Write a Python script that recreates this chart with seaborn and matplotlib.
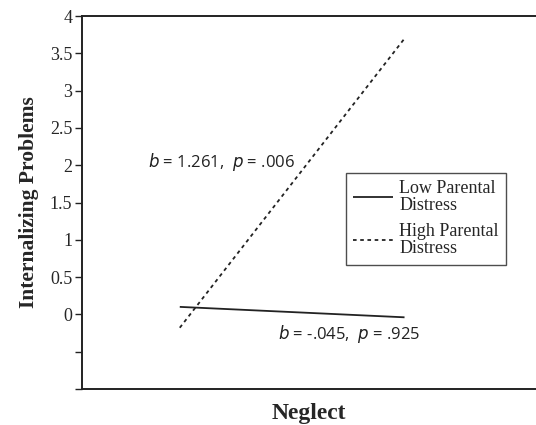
import pandas as pd
import numpy as np
import matplotlib
matplotlib.use('Agg')
import matplotlib.pyplot as plt
import seaborn as sns

# simple slopes, values
neglect = [-1, 1]
low_distress = [0.10, -0.04]
high_distress = [-0.18, 3.70]
groups = ['Low Parental\nDistress', 'High Parental\nDistress']
y_ticks = [-1, -0.5, 0, 0.5, 1, 1.5, 2, 2.5, 3, 3.5, 4]
y_tick_labels = ['', '', '0', '0.5', '1', '1.5', '2', '2.5', '3', '3.5', '4']

df = pd.DataFrame({
    'Neglect': neglect * 2,
    'Internalizing': low_distress + high_distress,
    'group': [groups[0]] * 2 + [groups[1]] * 2,
})

sns.set_theme(style='ticks')
plt.rcParams['font.family'] = ['Liberation Serif', 'DejaVu Serif']

fig = plt.figure(figsize=(5.36, 4.25), dpi=100)
ax = fig.add_axes([0.153, 0.085, 0.847, 0.877])

sns.lineplot(data=df, x='Neglect', y='Internalizing', hue='group', style='group',
             palette=['#222222', '#222222'], dashes=[(1, 0), (2, 2)],
             linewidth=1.3, ax=ax, legend=True)

ax.set_xlim(-1.87, 2.17)
ax.set_ylim(-1, 4)
ax.set_xticks([])
ax.set_yticks(y_ticks)
ax.set_yticklabels(y_tick_labels, fontsize=13)
ax.tick_params(axis='y', direction='out', length=5, width=1, color='#222222', pad=2)

for s in ['left', 'bottom', 'top']:
    ax.spines[s].set_color('#222222')
    ax.spines[s].set_linewidth(1.4)
ax.spines['right'].set_visible(False)

ax.set_xlabel('Neglect', fontsize=17, fontweight='bold', labelpad=10)
ax.set_ylabel('Internalizing Problems', fontsize=15.5, fontweight='bold', labelpad=8)

sans = ['Open Sans', 'DejaVu Sans']
ax.text(-1.28, 2.05, r'$b$ = 1.261,  $p$ = .006', fontsize=12, family=sans,
        ha='left', va='center', color='#222222')
ax.text(-0.13, -0.26, r'$b$ = -.045,  $p$ = .925', fontsize=12, family=sans,
        ha='left', va='center', color='#222222')

leg = ax.legend(title=None, loc='upper left', bbox_to_anchor=(0.581, 0.579),
                borderaxespad=0, fontsize=13, frameon=True, fancybox=False,
                handlelength=2.2, borderpad=0.4, labelspacing=0.5,
                handletextpad=0.35)
leg.get_frame().set_edgecolor('#222222')
leg.get_frame().set_linewidth(1.0)
for t in leg.get_texts():
    t.set_linespacing(1.0)

fig.savefig('out.png', dpi=100)
